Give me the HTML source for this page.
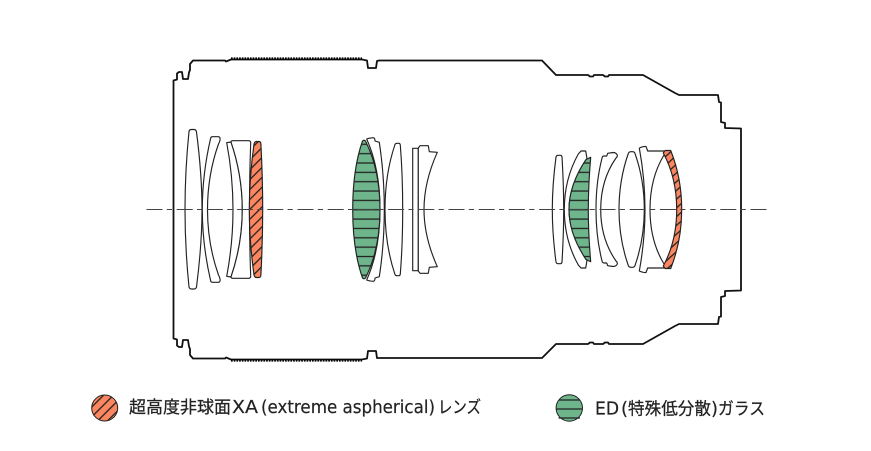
<!DOCTYPE html>
<html><head><meta charset="utf-8"><style>
html,body{margin:0;padding:0;background:#fff}
svg{display:block}
.o{fill:none;stroke:#111;stroke-width:1.8;stroke-linejoin:round}
.l{fill:#fff;stroke:#222;stroke-width:1.15;stroke-linejoin:round}
.t{font-family:"Noto Sans CJK JP","Liberation Sans",sans-serif;font-size:17px;fill:#222;stroke:#222;stroke-width:.25}
.d{font-family:"DejaVu Sans","Liberation Sans",sans-serif;font-size:18px;fill:#222;stroke:#222;stroke-width:.2}
</style></head><body>
<svg width="871" height="451" viewBox="0 0 871 451" xmlns="http://www.w3.org/2000/svg">
<defs>
<pattern id="h" width="7" height="7" patternUnits="userSpaceOnUse" patternTransform="rotate(-45) translate(0 2)">
<rect width="7" height="7" fill="#fc8660"/><rect width="7" height="1.3" fill="#222"/>
</pattern>
<pattern id="g" width="10" height="9.35" patternUnits="userSpaceOnUse" patternTransform="translate(0 0.1)">
<rect width="10" height="9.35" fill="#6eb58c"/><rect width="10" height="1.3" y="3.3" fill="#222"/>
</pattern>
<pattern id="h2" width="6.5" height="6.5" patternUnits="userSpaceOnUse" patternTransform="rotate(-42) translate(0 2)">
<rect width="6.5" height="6.5" fill="#fc8660"/><rect width="6.5" height="1.3" fill="#222"/>
</pattern>
</defs>

<!-- barrel -->
<path class="o" d="M173.5,209.5V80.5L177,79.5V73.5L179,72H182L183,79H188L189,72.5L190,70V64L193,60.5H225L226,61.5L231,59.5H362L367,60.5L368,68H376L377,61L379,60.5H542L556,75H588L590,76.5H593L594,75H603L605,76.5H608L609,75H643L675,93L679,95H718L719,102L721,102.5V122L725,123V128L741,128.5V290.5L725,291V296L721,297V316.5L719,317L718,324H679L675,326L643,344H609L608,342.5H605L603,344H594L593,342.5H590L588,344H556L542,358H379L377,358L376,351H368L367,358.5L362,359.5H231L226,357.5L225,358.5H193L190,355V349L189,346.5L188,340H183L182,347H179L177,345.5V339.5L173.5,338.5V209.5"/>
<path d="M231,58.6H362M231,360.4H362" fill="none" stroke="#000" stroke-width="2.5" stroke-dasharray="1.7 1"/>

<!-- group 1 -->
<path class="l" d="M189,131.5Q189.5,129.5 191.5,129.5H194Q196,129.5 196.5,132Q202,175 202,209.5Q202,244 196.5,287Q196,289 194,289H191.5Q189.5,289 189,287Q185,248 185,209.5Q185,171 189,131.5Z"/>
<path class="l" d="M210.7,138Q211,136.7 212.5,136.7H218.5Q220.5,137 220,140Q219.7,142 218.5,144Q207.5,175 207.5,209.5Q207.5,244 218.5,275Q219.7,277 220,279Q220.5,282 218.5,282.3H212.5Q211,282.3 210.7,281Q202.3,245 202.3,209.5Q202.3,174 210.7,138Z"/>
<path class="l" d="M226.7,142.7L231,142Q242.3,175 242.3,209.5Q242.3,244 231,277L226.7,276.3Q233,243 233,209.5Q233,176 226.7,142.7Z"/>
<path class="l" d="M231,142Q231,140.7 233,140.7H248.5Q250.7,140.7 250.7,143Q249.5,175 249.5,209.5Q249.5,244 250.7,276Q250.7,278.3 248.5,278.3H233Q231,278.3 231,277Q242.3,244 242.3,209.5Q242.3,175 231,142Z"/>
<path class="l" style="fill:url(#h)" d="M254,144Q254.5,141.5 256.5,141.5H259Q260.7,141.5 260.9,144Q262.7,178 262.7,209.5Q262.7,241 260.9,275Q260.7,277.5 259,277.5H256.5Q254.5,277.5 254,275Q249.3,241 249.3,209.5Q249.3,178 254,144Z"/>

<!-- group 2 -->
<path class="l" d="M366.7,139Q369,138 373.3,137.7Q375,138 375,141L379.3,142.3Q384.3,175 384.3,209.5Q384.3,244 379.3,276.7L375,278Q375,281 373.3,281.3Q369,281 366.7,280Q380,250 380,209.5Q380,169 366.7,139Z"/>
<path class="l" style="fill:url(#g)" d="M362.5,141Q364,139.5 365.5,141Q380,170 380,209.5Q380,249 365.5,278Q364,279.5 362.5,278Q352.7,250 352.7,209.5Q352.7,169 362.5,141Z"/>
<path class="l" d="M395,144.5Q395.5,143.3 397,143.3H399Q400,143.3 400.3,145Q402.7,175 402.7,209.5Q402.7,244 400.3,274Q400,275.7 399,275.7H397Q395.5,275.7 395,274.5Q385,245 385,209.5Q385,174 395,144.5Z"/>
<rect class="l" x="412.7" y="148.3" width="5.6" height="122.4"/>
<path class="l" d="M418.3,148L420,145.7H428.3L429.3,151.7L437.3,152.3Q424,182 424,209.5Q424,237 437.3,266.7L429.3,267.3L428.3,273.3H420L418.3,271Z"/>

<!-- group 3 -->
<path class="l" d="M556,157Q556.5,155.3 558,155.3H560.5Q561.7,155.3 562,157Q563.7,185 563.7,209.5Q563.7,234 562,262Q561.7,263.7 560.5,263.7H558Q556.5,263.7 556,262Q552.3,234 552.3,209.5Q552.3,185 556,157Z"/>
<path class="l" d="M578.3,154L581,151H585.7L586.7,156.7L587,160Q569,185 569,209.5Q569,234 587,259L586.7,262.3L585.7,268H581L578.3,265Q564.3,240 564.3,209.5Q564.3,179 578.3,154Z"/>
<path class="l" style="fill:url(#g)" d="M590.7,157.3Q588.3,185 588.3,209.5Q588.3,234 590.7,261.7L586,259.5Q569,234 569,209.5Q569,185 586,159.5Z"/>
<path class="l" d="M602.3,157Q603,156 604,156H606.7L607.7,153.3L613,152.5Q616,152.5 617.3,155Q617.5,157 616,158Q600.7,180 600.7,209.5Q600.7,239 616,261Q617.5,262 617.3,264Q616,266.5 613,266.5L607.7,265.7L606.7,263H604Q603,263 602.3,262Q596,238 596,209.5Q596,181 602.3,157Z"/>
<path class="l" d="M628.3,153.5Q629,151.7 631,151.7H632.5Q634.5,151.7 635,153.5Q644.3,180 644.3,209.5Q644.3,239 635,265.5Q634.5,267.3 632.5,267.3H631Q629,267.3 628.3,265.5Q619,239 619,209.5Q619,180 628.3,153.5Z"/>
<path class="l" style="fill:none" d="M639.3,148Q644,146 646,146.5L647.7,151H664M664,268H647.7L646,272.5Q644,273 639.3,271Q645,240 645,209.5Q645,179 639.3,148"/>
<path class="l" style="fill:none" d="M664,155Q650,178 650,209.5Q650,241 664,264"/>
<path class="l" style="fill:url(#h2)" d="M663.3,153L665,150.5H670.7Q681.7,178 681.7,209.5Q681.7,241 670.7,268.5H665L663.3,266Q676.7,241 676.7,209.5Q676.7,178 663.3,153Z"/>

<!-- axis -->
<path d="M146.5,209.5H767" fill="none" stroke="#444" stroke-width="1.05" stroke-dasharray="16 4.3 5.2 4.7"/>

<!-- legend -->
<circle cx="104.7" cy="408" r="13" fill="url(#h)" stroke="#222" stroke-width="1"/>
<text class="t" x="129" y="413" textLength="102" lengthAdjust="spacingAndGlyphs">超高度非球面</text>
<text class="d" x="232" y="413" textLength="26" lengthAdjust="spacingAndGlyphs">XA</text>
<text class="d" x="261" y="413" textLength="174" lengthAdjust="spacingAndGlyphs">(extreme aspherical)</text>
<text class="t" x="438" y="413" textLength="43" lengthAdjust="spacingAndGlyphs">レンズ</text>

<circle cx="569.3" cy="408" r="13.2" fill="#6eb58c" stroke="#222" stroke-width="1"/>
<path d="M559,400H580M556.5,409H582.5M558.5,418H580" stroke="#222" stroke-width="1.2" fill="none"/>
<text class="d" x="595" y="414.5" textLength="24" lengthAdjust="spacingAndGlyphs">ED</text>
<text class="d" x="621" y="414.5" textLength="7" lengthAdjust="spacingAndGlyphs">(</text>
<text class="t" x="628" y="414.5" textLength="83" lengthAdjust="spacingAndGlyphs">特殊低分散</text>
<text class="d" x="711" y="414.5" textLength="7" lengthAdjust="spacingAndGlyphs">)</text>
<text class="t" x="718" y="414.5" textLength="47" lengthAdjust="spacingAndGlyphs">ガラス</text>
</svg>
</body></html>
